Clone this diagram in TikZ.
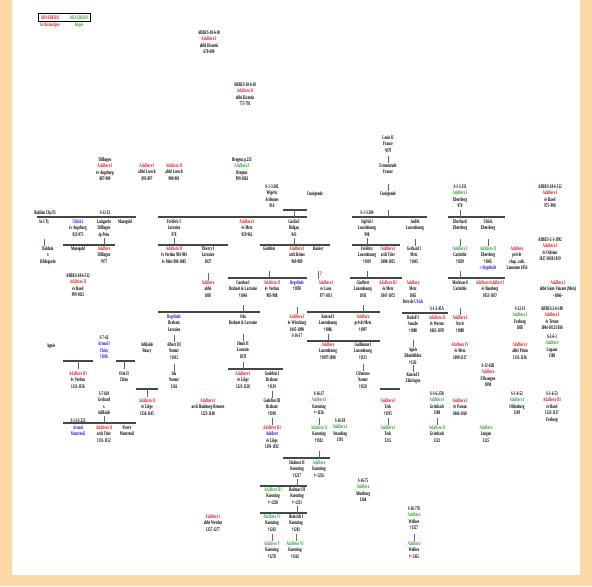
\documentclass[tikz,border=0pt]{standalone}
\usepackage{fontspec}
\setmainfont{Liberation Serif}[FakeStretch=0.58]
\usetikzlibrary{fit}

\definecolor{eccl}{RGB}{230,20,20}
\definecolor{layc}{RGB}{40,165,40}
\definecolor{bluc}{RGB}{20,20,230}
\definecolor{barc}{RGB}{70,70,70}
\definecolor{linkc}{RGB}{70,110,140}
\definecolor{linkp}{RGB}{150,80,170}
\definecolor{peach}{RGB}{251,216,166}

\newcommand\ecc[1]{\textcolor{eccl}{#1}}
\newcommand\lay[1]{\textcolor{layc}{#1}}
\newcommand\blu[1]{\textcolor{bluc}{#1}}

\tikzset{every picture/.style={line width=0.75pt}}
\tikzset{
txt/.style={font=\bfseries\fontsize{4.2}{4.9}\selectfont, align=center, inner sep=0pt, anchor=north},
couple/.style={draw=barc, line width=1.1pt},
link/.style={draw=linkc, line width=0.6pt}}

% union bar: name, left x, right x, y
\newcommand\union[4]{\coordinate (#1l) at (#2,#4); \coordinate (#1r) at (#3,#4); \draw[couple] (#1l) -- (#1r);}
% short stub from a parent down to a bar or a child
\newcommand\stub[3][link]{\draw[#1] (#2 |- #3) ++(0,-7) -- (#2 |- #3);}

\begin{document}
\begin{tikzpicture}[x=0.75pt,y=0.75pt,yscale=-1,xscale=1]
\useasboundingbox (0,0) rectangle (592,586);
\fill[peach] (0,0) rectangle (592,586);
\fill[white] (12,0) rectangle (580,575);

% Legend
\node[txt,anchor=center] (legA) at (50,17.5) {\ecc{ADALBERO}};
\node[txt,anchor=center] (legB) at (79,17.5) {\lay{ADALBERO}};
\node[draw,line width=0.9pt,inner sep=1.2pt,fit=(legA)(legB)] (legbox) {};
\node[txt,anchor=center] (legC) at (50,25) {\ecc{Ecclésiastique}};
\node[txt,anchor=center] (legD) at (79,25) {\lay{laïque}};

% Text Node
\node[txt] (abbeA) at (209,30) {ABBES-18-6-10\\\ecc{Adalbero I}\\abbé Disentis\\670-690};
\node[txt] (abbeB) at (245,82) {ABBES-18-6-10\\\ecc{Adalbero II}\\abbé Disentis\\775-791};
\node[txt] (augsb) at (105,157) {Dillingen\\\ecc{Adalbero I}\\év Augsburg\\887-909};
\node[txt] (lorschA) at (147,163) {\ecc{Adalbero I}\\abbé Lorsch\\895-897};
\node[txt] (lorschB) at (174,163) {\ecc{Adalbero II}\\abbé Lorsch\\900-901};
\node[txt] (bregenz) at (242,157) {Bregenz p.235\\\lay{Adalbero I}\\Bregenz\\999-1026};
\node[txt] (louis) at (388,135) {Louis II\\France\\†879};
\node[txt] (ermen) at (388,163) {Ermentrude\\France};
\node[txt] (cuneB) at (388,191) {Cunégonde};
\node[txt] (wigeric) at (272,184) {S-1-3-202\\Wigéric\\Ardennes\\916};
\node[txt] (cuneA) at (315,191) {Cunégonde};
\node[txt] (ebersA) at (460,184) {S-1-3-211\\\lay{Adalbero I}\\Ebersberg\\970};
\node[txt] (basel1) at (550,184) {ABBES-18-6-512\\\ecc{Adalbero I}\\év Basel\\975--998};

% Text Node
\node[txt] (idBal) at (45,210) {Balduin Chy.95};
\node[txt] (idLuit) at (105,210) {S-12-32};
\node[txt] (idSig) at (367,210) {S-1-3-204};
\node[txt] (sxity) at (44,219) {Sx I Ty};
\node[txt] (ulrich) at (78,219) {\blu{Ulrich I}\\év Augsburg\\923-973};
\node[txt] (luitg) at (104,219) {Luitgarde\\Dillingen\\ép Peiss};
\node[txt] (manegA) at (125,219) {Manegold};
\node[txt] (frederic) at (174,219) {Frédéric I\\Lorraine\\978};
\node[txt] (adalMetz) at (247,219) {\ecc{Adalbero I}\\év Metz\\929-962};
\node[txt] (gozlin) at (294,219) {Gozlin I\\Bidgau\\943};
\node[txt] (sigfrid) at (367,219) {Sigfrid I\\Luxembourg\\998};
\node[txt] (judith) at (415,219) {Judith\\Luxembourg};
\node[txt] (eberhard) at (460,219) {Eberhard\\Ebersberg};
\node[txt] (ulrichE) at (488,219) {Ulrich\\Ebersberg};
\node[txt] (orleans) at (550,237) {ABBES-2-1-1992\\\ecc{Adalbero I}\\év Orléans\\1017-1018/1019};

% Text Node
\node[txt] (hildeg) at (48,246) {Balduin\\x\\Hildegarde};
\node[txt] (manegB) at (78,246) {Manegold};
\node[txt] (adalDill) at (104,246) {\ecc{Adalbero}\\Dillingen\\†977};
\node[txt] (verdun1) at (174,246) {\ecc{Adalbero II}\\év Verdun 984-984\\év Metz 984-1005};
\node[txt] (thierry) at (208,246) {Thierry I\\Lorraine\\1027};
\node[txt] (godefroi) at (269,246) {Godefroi};
\node[txt] (reims) at (297,246) {\ecc{Adalbero I}\\arch Reims\\969-989};
\node[txt] (rainier) at (318,246) {Rainier};
\node[txt] (fredLux) at (367,246) {Frédéric\\Luxembourg\\†1019};
\node[txt] (trier1) at (388,246) {\ecc{Adalbero I}\\arch Trier\\1008-1015};
\node[txt] (gerhard) at (414,246) {Gerhard I\\Metz\\†1045};
\node[txt] (carinth) at (460,246) {\lay{Adalbero I}\\Carinthie\\†1039};
\node[txt] (ebersB) at (488,246) {\lay{Adalbero II}\\Ebersberg\\†1045\\\blu{∞ Regelinde}};
\node[txt] (lausanne) at (517,246) {\ecc{Adalbero}\\prévôt\\chap. cath.\\Lausanne 1054};
\node[txt] (basel2) at (78,273) {ABBES-18-6-512\\\ecc{Adalbero II}\\év Basel\\999-1025};

% Text Node
\node[txt] (abbeT) at (208,280) {\ecc{Adalbero}\\abbé\\1005};
\node[txt] (gozelo) at (243,280) {Gozelon I\\Brabant \& Lorraine\\†1044};
\node[txt] (verdun2) at (272,280) {\ecc{Adalbero II}\\év Verdun\\985-988};
\node[txt] (regelA) at (297,280) {\blu{Regelinde}\\†1050};
\node[txt] (qm) at (321,271) {?};
\node[txt] (laon) at (326,280) {\ecc{Adalbero I}\\év Laon\\977-1031};
\node[txt] (giselb) at (363,280) {Giselbert\\Luxembourg\\1056};
\node[txt] (metz3) at (388,280) {\ecc{Adalbero III}\\év Metz\\1047-1072};
\node[txt] (adalMetzB) at (413,280) {\ecc{Adalbero}\\Metz\\1065\\frère de \blu{Ulrich}};
\node[txt] (markward) at (460,280) {Markward\\Carinthie};
\node[txt] (bamberg) at (490,280) {\ecc{Adalbero/Adalbert I}\\év Bamberg\\1053-1057};
\node[txt] (stvincent) at (558,280) {\ecc{Adalbero I}\\abbé Saint-Vincent (Metz)\\--1066--};

% Text Node
\node[txt] (idRud) at (437,306) {S-1-2-45A};
\node[txt] (regelB) at (174,314) {\blu{Regelinde}\\Brabant\\Lorraine};
\node[txt] (oda) at (243,314) {Oda\\Brabant \& Lorraine};
\node[txt] (wurzb) at (297,314) {\ecc{Adalbero I}\\év Würzburg\\1045-1090\\S-16-17};
\node[txt] (konrad) at (328,314) {Konrad I\\Luxembourg\\†1086};
\node[txt] (prevot) at (363,314) {\ecc{Adalbero}\\prévôt Metz\\†1097};
\node[txt] (rudolf) at (413,315) {Rudolf I\\Souabe\\†1080};
\node[txt] (worms) at (437,315) {\ecc{Adalbero II}\\év Worms\\1065-1070};
\node[txt] (styrie) at (460,315) {\ecc{Adalbero I}\\Styrie\\†1088};
\node[txt] (froburgA) at (520,306) {S-12-13\\\lay{Adalbero I}\\Froburg\\1085};
\node[txt] (trente) at (552,306) {ABBES-2-6-109\\\ecc{Adalbero I}\\év Trente\\1004-1012/1036};
\node[txt] (lugano) at (552,334) {S-2-6-1\\\lay{Adalbero}\\Lugano\\1108};

% Text Node
\node[txt] (arnoul) at (104,335) {S-7-42\\\blu{Arnoul I}\\\blu{Chiny}\\\blu{†1106}};
\node[txt] (agnesC) at (51,343) {Agnès};
\node[txt] (adelR) at (147,342) {Adélaïde\\Roucy};
\node[txt] (albert3) at (174,342) {Albert III\\Namur\\†1102};
\node[txt] (henri) at (243,341) {Henri II\\Louvain\\1078};
\node[txt] (adalLux) at (328,342) {\ecc{Adalbero}\\Luxembourg\\†1097/1098};
\node[txt] (guill) at (363,342) {Guillaume I\\Luxembourg\\†1131};
\node[txt] (agnes) at (413,347) {Agnès\\Rheinfelden\\†1111};
\node[txt] (metz4) at (460,342) {\ecc{Adalbero IV}\\év Metz\\1090-1117};
\node[txt] (prum) at (520,342) {\ecc{Adalbero I}\\abbé Prüm\\1131-1136};
\node[txt] (ellw) at (488,363) {S-12-45B\\\ecc{Adalbero}\\Ellwangen\\1094};

% Text Node
\node[txt] (verdun3) at (78,371) {\ecc{Adalbero III}\\év Verdun\\1131-1156};
\node[txt] (otto) at (124,371) {Otto II\\Chiny};
\node[txt] (ida) at (174,371) {Ida\\Namur\\1126};
\node[txt] (liege1) at (243,371) {\ecc{Adalbero I}\\év Liège\\1123-1128};
\node[txt] (godef1) at (272,371) {Godefroi I\\Brabant\\†1139};
\node[txt] (clemence) at (363,371) {Clémence\\Namur\\†1158};
\node[txt] (konradZ) at (413,372) {Konrad I\\Zähringen};

% Text Node
\node[txt] (pairie) at (104,391) {S-7-610\\Gerhard\\x\\Adélaïde};
\node[txt] (liege2) at (147,398) {\ecc{Adalbero II}\\év Liège\\1136-1145};
\node[txt] (hamburg) at (208,398) {\ecc{Adalbero I}\\arch Hamburg-Bremen\\1123-1148};
\node[txt] (godef3) at (272,398) {Godefroi III\\Brabant\\†1190};
\node[txt] (kuenA) at (319,391) {S-16-27\\\lay{Adalbero I}\\Kuenring\\†\textasciitilde1156};
\node[txt] (teck1) at (388,398) {\ecc{Adalbero I}\\Teck\\†1195};
\node[txt] (gleich1) at (437,391) {S-1-6-25B\\\lay{Adalbero I}\\Griesbach\\1108};
\node[txt] (passau) at (460,398) {\ecc{Adalbero I}\\év Passau\\1064-1160};
\node[txt] (oldenb) at (517,391) {S-1-6-52\\\lay{Adalbero I}\\Oldenburg\\1149};
\node[txt] (basel3) at (552,391) {S-1-6-53\\\ecc{Adalbero III}\\év Basel\\1133-1137\\Froburg};

% Text Node
\node[txt] (idMont) at (78,418) {S-1-13-235};
\node[txt] (arnoulM) at (78,425) {\blu{Arnoul}\\\blu{Montreuil}};
\node[txt] (trier2) at (104,425) {\ecc{Adalbero II}\\arch Trier\\1131-1152};
\node[txt] (pierre) at (127,425) {Pierre\\Montreuil};
\node[txt] (albertL) at (272,425) {\ecc{Adalbero III}\\\blu{Adalbert}\\év Liège\\1191-1192};
\node[txt] (kuenB) at (319,425) {\lay{Adalbero II}\\Kuenring\\†1182};
\node[txt] (strasb) at (340,418) {S-16-58\\\lay{Adalbero I}\\Straubing\\1191};
\node[txt] (teck2) at (388,425) {\lay{Adalbero I}\\Teck\\1215};
\node[txt] (gleich2) at (437,425) {\lay{Adalbero II}\\Griesbach\\1123};
\node[txt] (lengau) at (486,425) {\lay{Adalbero}\\Lengau\\1125};

% Text Node
\node[txt] (hadmar2) at (297,460) {Hadmar II\\Kuenring\\†1217};
\node[txt] (kuenC) at (319,460) {\lay{Adalbero}\\Kuenring\\†\textasciitilde1256};
\node[txt] (altenb) at (363,478) {S-16-75\\\lay{Adalbero}\\Altenburg\\1264};
\node[txt] (kuenD) at (273,487) {\lay{Adalbero III}\\Kuenring\\†\textasciitilde1220};
\node[txt] (hadmar3) at (297,487) {Hadmar III\\Kuenring\\†\textasciitilde1231};
\node[txt] (wallsee1) at (414,506) {S-16-770\\\lay{Adalbero}\\Wallsee\\†1327};
\node[txt] (werden) at (213,514) {\ecc{Adalbero I}\\abbé Werden\\1257-1277};
\node[txt] (kuenE) at (272,514) {\lay{Adalbero IV}\\Kuenring\\†1261};
\node[txt] (heinr) at (296,514) {Heinrich I\\Kuenring\\†1281};
\node[txt] (kuenF) at (272,541) {\lay{Adalbero V}\\Kuenring\\†1278};
\node[txt] (kuenG) at (295,541) {\lay{Adalbero VI}\\Kuenring\\†1342};
\node[txt] (wallsee2) at (414,541) {\lay{Adalbero}\\Wallsee\\†\textasciitilde1365};

%Straight Lines
\union{b1}{37}{136}{217}
\union{b2}{63}{115}{245}
\union{b3t}{283}{307}{210}
\union{b3}{158}{307}{217}
\union{b4}{158}{228}{245}
\union{b5}{260}{330}{245}
\union{b6}{352}{427}{217}
\union{b7}{352}{400}{245}
\union{b8}{448}{505}{217}
\union{b9}{228}{307}{278}
\union{b10}{350}{402}{278}
\union{b11}{448}{505}{278}
\union{b12}{158}{260}{312}
\union{b13}{307}{380}{312}
\union{b14}{402}{448}{313}
\union{b15}{307}{380}{341}
\union{b16}{63}{93}{361}
\union{b17}{116}{135}{361}
\union{b18}{228}{283}{369}
\union{b19}{136}{158}{389}
\union{b20}{380}{400}{389}
\union{b21}{63}{136}{423}
\union{b22}{283}{330}{458}
\union{b23}{260}{307}{486}
\union{b24}{260}{307}{513}

%Straight Lines
\stub{louis}{ermen.north}
\stub{ermen}{cuneB.north}
\stub{cuneB}{b6l}
\stub{luitg}{b2l}
\stub{sxity}{hildeg.north}
\draw[link] (gozlin |- b3tl) -- (gozlin |- b3l);
\stub{frederic}{b4l}
\stub{gozlin}{b5l}
\stub{sigfrid}{b7l}
\stub{judith}{gerhard.north}
\stub{ebersA}{b8l}
\stub{eberhard}{carinth.north}
\stub{ulrichE}{ebersB.north}
\stub{godefroi}{b9l}
\stub{thierry}{abbeT.north}
\draw[link] (rainier |- b9l) ++(0,-7) -- ++(0,8);
\stub{fredLux}{b10l}
\stub{carinth}{b11l}
\stub{gozelo}{b12l}
\stub{regelA}{wurzb.north}
\stub{giselb}{b13l}
\stub{markward}{styrie.north}
\stub{konrad}{b15l}
\stub{regelB}{albert3.north}
\stub{oda}{henri.north}
\stub{rudolf}{agnes.north}
\stub{guill}{clemence.north}
\stub{agnes}{konradZ.north}
\stub{albert3}{ida.north}
\stub{henri}{b18l}
\draw[link] (verdun3 |- b16l) -- ++(0,8);
\draw[link] (otto |- b17l) -- ++(0,8);
\draw[link] (liege2 |- b19l) -- ++(0,8);
\stub{godef1}{godef3.north}
\stub{godef3}{albertL.north}
\stub{kuenA}{kuenB.north}
\stub{teck1}{teck2.north}
\stub{gleich1}{gleich2.north}
\stub{pairie}{b21l}
\stub{kuenB}{b22l}
\stub{hadmar2}{b23l}
\stub{hadmar3}{b24l}
\stub[draw=linkp,line width=0.6pt]{kuenE}{kuenF.north}
\stub[draw=layc,line width=0.6pt]{heinr}{kuenG.north}
\stub[draw=linkp,line width=0.6pt]{wallsee1}{wallsee2.north}

\end{tikzpicture}
\end{document}
